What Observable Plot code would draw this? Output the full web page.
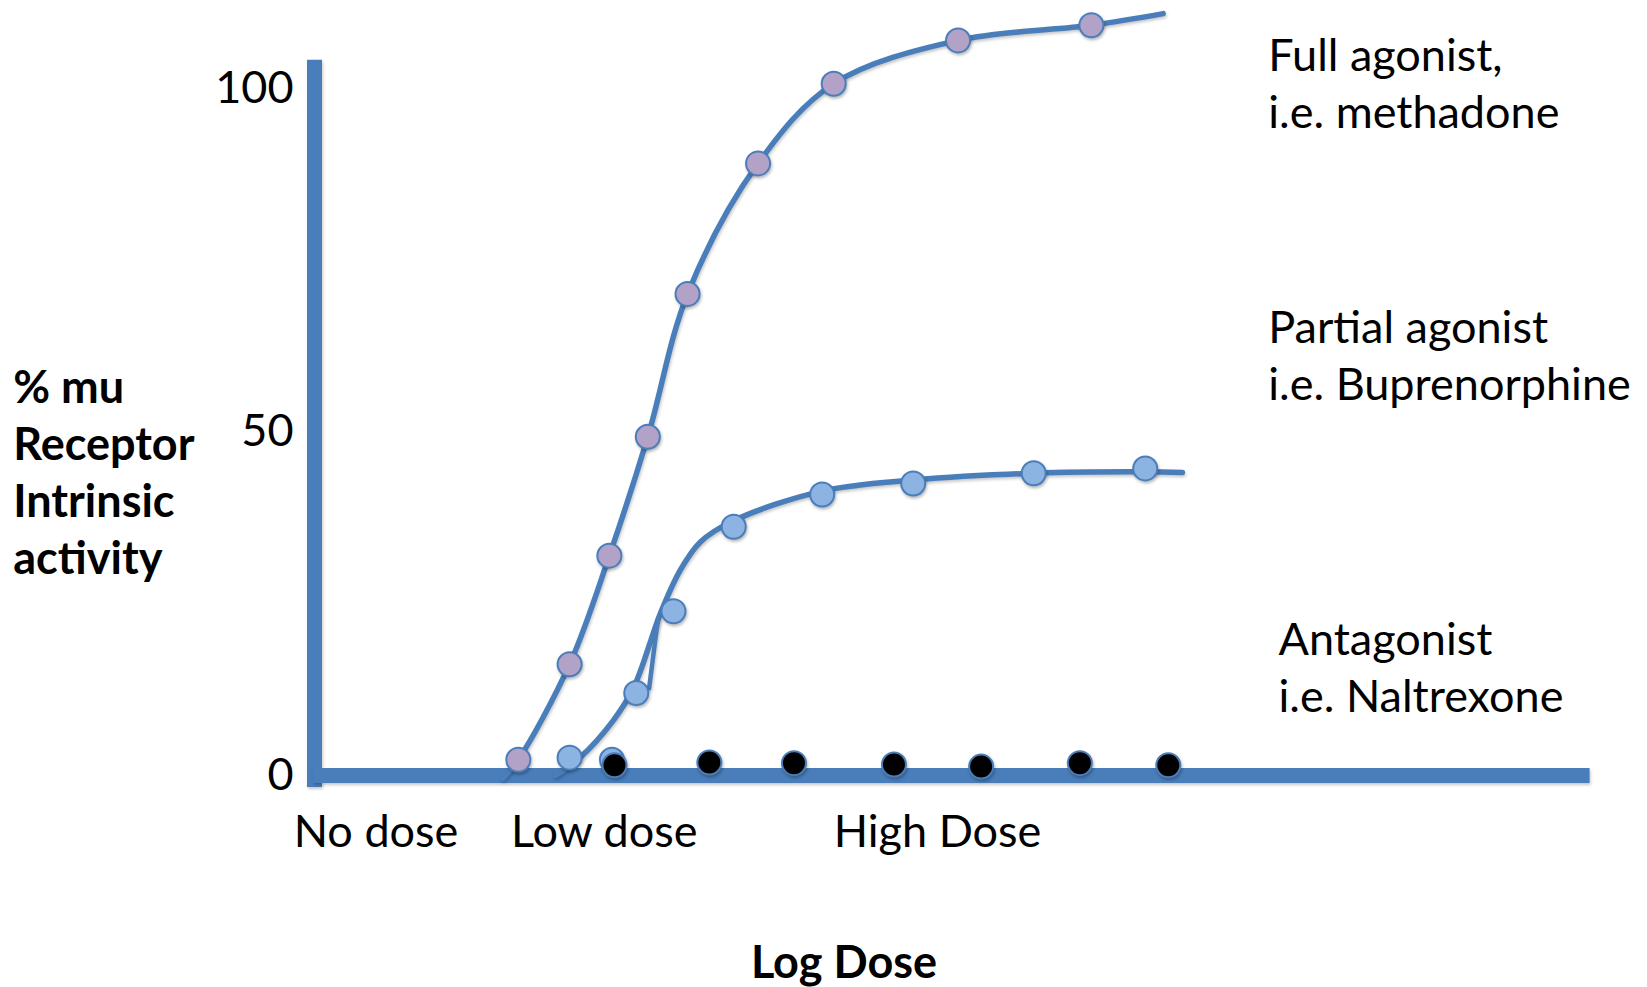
<!DOCTYPE html>
<html>
<head>
<meta charset="utf-8">
<script src="https://cdn.jsdelivr.net/npm/d3@7"></script>
<script src="https://cdn.jsdelivr.net/npm/@observablehq/plot@0.6"></script>
<style>
  html, body { margin: 0; padding: 0; background: #fff; }
  #chart svg { display: block; }
  #chart svg g[aria-label="dot"] circle { filter: drop-shadow(1.5px 2.5px 1.5px rgba(0,0,0,0.28)); }
  #chart svg g[aria-label="line"] path { filter: drop-shadow(1px 2px 1.5px rgba(0,0,0,0.22)); }
  #chart svg g[aria-label="rule"] line { filter: drop-shadow(1px 2px 1.5px rgba(0,0,0,0.22)); }
</style>
</head>
<body>
<div id="chart"></div>
<script>
// ---- data (x = log dose, arbitrary units; y = % mu receptor intrinsic activity) ----
const fullDose      = [1.59, 1.99, 2.30, 2.60, 2.91, 3.46, 4.05, 5.02, 6.06];
const fullActivity  = [2.3, 16.2, 32.0, 49.3, 70.1, 89.1, 100.7, 107.0, 109.2];
const fullCurveDose     = [1.47, 1.59, 1.99, 2.30, 2.60, 2.91, 3.46, 4.05, 5.02, 6.06, 6.62];
const fullCurveActivity = [-0.4, 2.3, 16.2, 32.0, 49.3, 70.1, 89.1, 100.7, 107.0, 109.2, 110.9];

const partialDose     = [1.99, 2.51, 2.80, 3.27, 3.96, 4.67, 5.61, 6.48];
const partialActivity = [2.6, 12.0, 23.9, 36.2, 40.9, 42.5, 44.0, 44.7];
const partialCurveDose     = [1.88, 2.07, 2.33, 2.49, 2.70, 2.85, 3.01, 3.27, 3.96, 4.67, 5.61, 6.48, 6.77];
const partialCurveActivity = [0.0, 2.6, 8.0, 12.8, 23.7, 29.8, 34.0, 37.1, 41.4, 43.0, 44.0, 44.2, 44.1];
const partialStrokeDose     = [2.61, 2.68];
const partialStrokeActivity = [12.7, 22.9];
const partialHiddenDose     = [2.32];
const partialHiddenActivity = [2.3];

const antagonistDose     = [2.34, 3.08, 3.74, 4.52, 5.20, 5.97, 6.66];
const antagonistActivity = [1.5, 1.9, 1.8, 1.6, 1.3, 1.8, 1.5];

const yTicks = [0, 50, 100];
const xTickValues = [0.48, 2.26, 4.86];
const xTickLabels = ["No dose", "Low dose", "High Dose"];

const seriesLabels = ["Full agonist,\ni.e. methadone", "Partial agonist\ni.e. Buprenorphine", "Antagonist\ni.e. Naltrexone"];
const seriesLabelDose = [7.44, 7.44, 7.52];
const seriesLabelActivity = [94.2, 54.6, 9.3];

const yTitle = "% mu\nReceptor\nIntrinsic\nactivity";
const xTitle = "Log Dose";

// ---- build tables ----
const zip = (xs, ys) => xs.map((x, i) => ({x, y: ys[i]}));
const fullPts = zip(fullDose, fullActivity);
const fullCurve = zip(fullCurveDose, fullCurveActivity);
const partialPts = zip(partialDose, partialActivity);
const partialCurve = zip(partialCurveDose, partialCurveActivity);
const partialStroke = zip(partialStrokeDose, partialStrokeActivity);
const partialHidden = zip(partialHiddenDose, partialHiddenActivity);
const antagonistPts = zip(antagonistDose, antagonistActivity);
const labels = seriesLabels.map((t, i) => ({text: t, x: seriesLabelDose[i], y: seriesLabelActivity[i]}));

const BLUE = "#4A7EBB";
const FS = 45;
const FONT = "Lato, 'Open Sans', sans-serif";

const chart = Plot.plot({
  width: 1647,
  height: 987,
  marginLeft: 314,
  marginRight: 51,
  marginTop: 88,
  marginBottom: 212,
  x: {domain: [0, 10], axis: null},
  y: {domain: [0, 100], axis: null},
  style: {fontFamily: FONT, fontSize: FS + "px", color: "#000", background: "#fff", overflow: "visible"},
  marks: [
    // axes lines
    Plot.ruleX([0], {y1: -1.75, y2: 104.1, stroke: BLUE, strokeWidth: 15}),
    Plot.ruleY([0], {x1: -0.01, x2: 9.95, stroke: BLUE, strokeWidth: 15}),
    // curves
    Plot.line(fullCurve, {x: "x", y: "y", curve: "catmull-rom", stroke: BLUE, strokeWidth: 5.5}),
    Plot.line(partialCurve, {x: "x", y: "y", curve: "catmull-rom", stroke: BLUE, strokeWidth: 5.5}),
    Plot.line(partialStroke, {x: "x", y: "y", stroke: BLUE, strokeWidth: 4.5}),
    // points
    Plot.dot(partialHidden, {x: "x", y: "y", r: 12, fill: "#8DB3E2", stroke: BLUE, strokeWidth: 2}),
    Plot.dot(fullPts, {x: "x", y: "y", r: 12, fill: "#B3A2C7", stroke: BLUE, strokeWidth: 2}),
    Plot.dot(partialPts, {x: "x", y: "y", r: 12, fill: "#8DB3E2", stroke: BLUE, strokeWidth: 2}),
    Plot.dot(antagonistPts, {x: "x", y: "y", r: 12, fill: "#000", stroke: BLUE, strokeWidth: 2}),
    // axes labels
    Plot.axisY({ticks: yTicks, tickSize: 0, tickPadding: 21, fontSize: FS, label: null, anchor: "left"}),
    Plot.axisX({ticks: xTickValues, tickFormat: d => xTickLabels[xTickValues.indexOf(d)], tickSize: 0, tickPadding: 40, fontSize: FS, label: null, anchor: "bottom"}),
    // series labels
    Plot.text(labels, {x: "x", y: "y", text: "text", textAnchor: "start", lineAnchor: "bottom", lineHeight: 57 / FS, fontSize: FS, fill: "#000"}),
    // titles
    Plot.text([yTitle], {x: -2.35, y: 29.4, text: d => d, textAnchor: "start", lineAnchor: "bottom", lineHeight: 57 / FS, fontSize: FS, fontWeight: "bold", fill: "#000"}),
    Plot.text([xTitle], {x: 4.13, y: -29.5, text: d => d, textAnchor: "middle", lineAnchor: "bottom", fontSize: FS, fontWeight: "bold", fill: "#000"})
  ]
});
document.getElementById("chart").appendChild(chart);
</script>
</body>
</html>
